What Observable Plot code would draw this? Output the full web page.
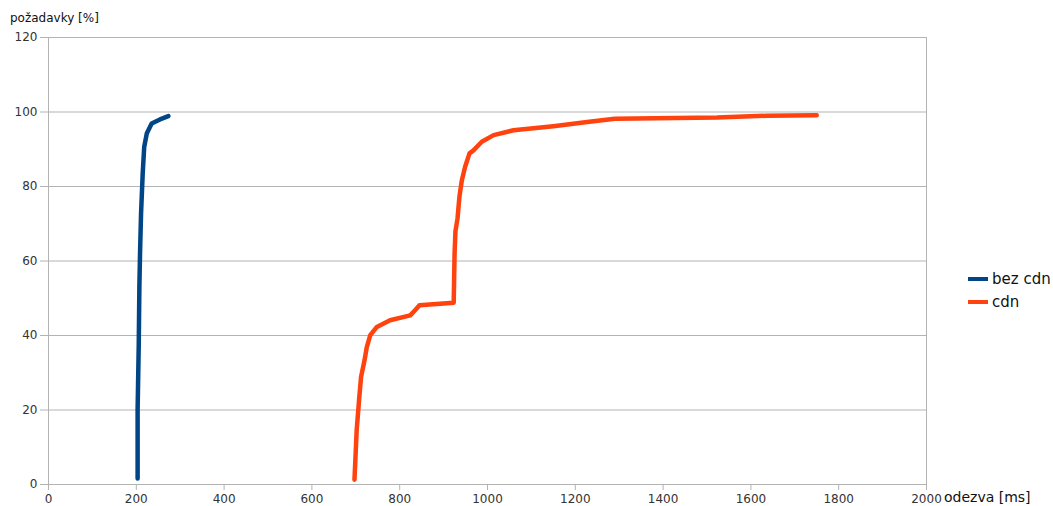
<!DOCTYPE html>
<html>
<head>
<meta charset="utf-8">
<script src="https://cdn.jsdelivr.net/npm/d3@7"></script>
<script src="https://cdn.jsdelivr.net/npm/@observablehq/plot@0.6"></script>
<style>
  html, body { margin: 0; padding: 0; background: #fff; }
  #chart { position: relative; width: 1053px; height: 506px; }
  svg { font-family: "DejaVu Sans", sans-serif; }
</style>
</head>
<body>
<div id="chart"></div>
<script>
const xTicks = [0, 200, 400, 600, 800, 1000, 1200, 1400, 1600, 1800, 2000];
const yTicks = [0, 20, 40, 60, 80, 100, 120];
const seriesNames = ["bez cdn", "cdn"];
const seriesColors = ["#004586", "#ff420e"];

const bezCdnMs = [203, 203, 205.6, 207, 208.5, 210.8, 214.6, 218, 223.8, 235, 254, 273];
const bezCdnPct = [1.6, 20, 37.8, 53, 62, 72.7, 83.5, 90.6, 94.2, 96.9, 98, 98.9];

const cdnMs = [697, 702, 708, 712, 720, 725, 733, 748, 778, 824, 835, 845, 923, 925, 927, 931.7, 936, 941.6, 949, 959, 968, 987, 1014, 1059, 1150, 1227, 1290, 1523, 1637, 1750];
const cdnPct = [1.3, 14.6, 23.5, 28.9, 33.4, 36.9, 40.1, 42.3, 44.1, 45.4, 46.8, 48.1, 48.8, 62, 68, 71.4, 77.2, 81.7, 85.3, 88.9, 89.7, 92, 93.8, 95.1, 96.2, 97.3, 98.2, 98.5, 99, 99.1];

const bezData = bezCdnMs.map((v, i) => ({x: v, y: bezCdnPct[i]}));
const cdnData = cdnMs.map((v, i) => ({x: v, y: cdnPct[i]}));

const grid = "#b3b3b3";
const plot = Plot.plot({
  width: 1053,
  height: 506,
  marginLeft: 48,
  marginRight: 127,
  marginTop: 37,
  marginBottom: 22,
  style: {fontFamily: "DejaVu Sans, sans-serif", fontSize: "12px", color: "#333"},
  x: {domain: [0, 2000], ticks: xTicks, label: null},
  y: {domain: [0, 120], ticks: yTicks, label: null},
  marks: [
    Plot.gridY(yTicks, {stroke: grid, strokeOpacity: 1}),
    Plot.ruleX([0], {stroke: grid}),
    Plot.ruleX([2000], {stroke: grid}),
    Plot.ruleY([0], {stroke: grid}),
    Plot.axisY(yTicks, {tickSize: 8, tickPadding: 3, stroke: grid, fill: "#333", fontSize: 12, tickFormat: d => String(d)}),
    Plot.axisX(xTicks, {tickSize: 6, tickPadding: 4, stroke: grid, fill: "#333", fontSize: 12, tickFormat: d => String(d)}),
    Plot.line(bezData, {x: "x", y: "y", stroke: seriesColors[0], strokeWidth: 4.5, strokeLinejoin: "round"}),
    Plot.line(cdnData, {x: "x", y: "y", stroke: seriesColors[1], strokeWidth: 4.5, strokeLinejoin: "round"})
  ]
});
document.getElementById("chart").appendChild(plot);

const svg = d3.select(plot);
svg.append("text").attr("x", 10).attr("y", 22).attr("text-anchor", "start").attr("font-size", 12).attr("fill", "#111").text("požadavky [%]");
svg.append("text").attr("x", 944).attr("y", 502).attr("text-anchor", "start").attr("font-size", 14).attr("fill", "#111").text("odezva [ms]");
const leg = svg.append("g").attr("text-anchor", "start");
seriesNames.forEach((name, i) => {
  const yy = 279 + i * 23;
  leg.append("line").attr("x1", 968).attr("x2", 988).attr("y1", yy).attr("y2", yy)
    .attr("stroke", seriesColors[i]).attr("stroke-width", 4);
  leg.append("text").attr("x", 992).attr("y", yy + 5).attr("font-size", 15).attr("fill", "#111").text(name);
});
</script>
</body>
</html>
